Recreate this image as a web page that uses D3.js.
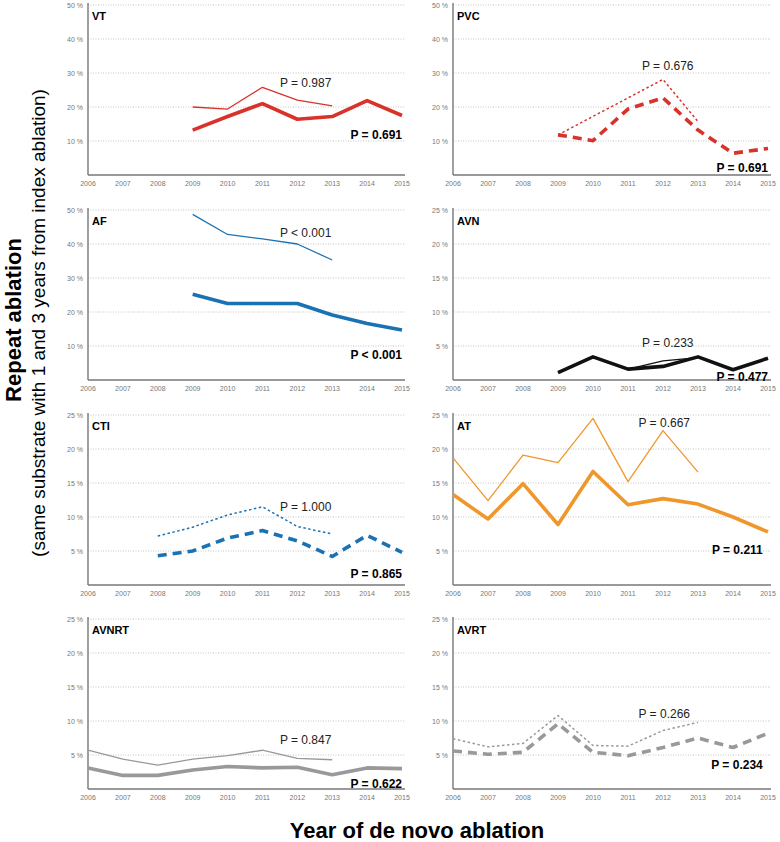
<!DOCTYPE html>
<html>
<head>
<meta charset="utf-8">
<script src="https://cdn.jsdelivr.net/npm/d3@7"></script>
<style>
  body { margin: 0; background: #fff; }
  svg { font-family: "Liberation Sans", Arial, Helvetica, sans-serif; }
</style>
</head>
<body>
<script>
// tick labels
var years = [2006, 2007, 2008, 2009, 2010, 2011, 2012, 2013, 2014, 2015];
var panelNames = ["VT", "PVC", "AF", "AVN", "CTI", "AT", "AVNRT", "AVRT"];
var yMax = [50, 50, 50, 25, 25, 25, 25, 25];

// 3-year repeat (thin, ends 2013) and 1-year repeat (thick, to 2015), % per year
var vt3  = [null, null, null, 20.0, 19.4, 25.8, 22.0, 20.3];
var vt1  = [null, null, null, 13.2, 17.2, 21.0, 16.4, 17.2, 21.9, 17.5];
var pvc3 = [null, null, null, 11.8, null, null, 28.1, 15.7];
var pvc1 = [null, null, null, 11.8, 10.1, 19.4, 22.7, 13.2, 6.4, 7.8];
var af3  = [null, null, null, 48.7, 42.8, 41.5, 40.0, 35.3];
var af1  = [null, null, null, 25.2, 22.5, 22.5, 22.5, 19.1, 16.6, 14.7];
var avn3 = [null, null, null, 1.1, 3.4, 1.6, 2.8, 3.3];
var avn1 = [null, null, null, 1.1, 3.4, 1.6, 2.0, 3.4, 1.5, 3.2];
var cti3 = [null, null, 7.2, 8.5, 10.3, 11.5, 8.6, 7.5];
var cti1 = [null, null, 4.3, 5.0, 6.9, 8.0, 6.5, 4.2, 7.3, 4.8];
var at3  = [18.7, 12.4, 19.1, 18.0, 24.5, 15.2, 22.7, 16.6];
var at1  = [13.3, 9.7, 14.9, 8.9, 16.7, 11.8, 12.7, 11.9, 10.0, 7.8];
var avnrt3 = [5.7, 4.4, 3.5, 4.4, 4.9, 5.7, 4.5, 4.3];
var avnrt1 = [3.1, 2.0, 2.0, 2.8, 3.3, 3.1, 3.2, 2.1, 3.1, 3.0];
var avrt3 = [7.4, 6.2, 6.7, 10.8, 6.4, 6.3, 8.6, 9.8];
var avrt1 = [5.6, 5.1, 5.4, 9.6, 5.4, 4.9, 6.1, 7.5, 6.1, 8.2];

var thinSeries = [vt3, pvc3, af3, avn3, cti3, at3, avnrt3, avrt3];
var thickSeries = [vt1, pvc1, af1, avn1, cti1, at1, avnrt1, avrt1];

var pThin = ["P = 0.987", "P = 0.676", "P < 0.001", "P = 0.233", "P = 1.000", "P = 0.667", "P = 0.847", "P = 0.266"];
var pBold = ["P = 0.691", "P = 0.691", "P < 0.001", "P = 0.477", "P = 0.865", "P = 0.211", "P = 0.622", "P = 0.234"];

// styles
var colors = ["#d9322a", "#d9322a", "#1b72b3", "#111111", "#1b72b3", "#f0972c", "#999999", "#999999"];
var dashed = [false, true, false, false, true, false, false, true];

// label anchors (year, %) for the P values
var thinLabelAt = [[2011.5, 25.9], [2011.4, 30.9], [2011.5, 42.1], [2011.4, 4.85], [2011.5, 10.9], [2011.3, 23.2], [2011.5, 6.6], [2011.3, 10.4]];
var boldLabelAt = [[2015, 10.6], [2015, 0.9], [2015, 6.2], [2015, -0.1], [2015, 1.0], [2014.85, 4.6], [2015, 0.1], [2014.85, 2.9]];

var width = 780, height = 842;
var colLeft = [88, 453], colRight = [402, 768];
var rowTop = [5, 210, 415, 619], plotH = 170;

var svg = d3.select("body").append("svg")
    .attr("width", width)
    .attr("height", height);

panelNames.forEach(function(name, i) {
  var col = i % 2, row = Math.floor(i / 2);
  var x = d3.scaleLinear().domain([2006, 2015]).range([colLeft[col], colRight[col]]);
  var y = d3.scaleLinear().domain([0, yMax[i]]).range([rowTop[row] + plotH, rowTop[row]]);
  var g = svg.append("g");
  var yTicks = d3.range(yMax[i] / 5, yMax[i] + 0.01, yMax[i] / 5);

  // dotted grid
  g.selectAll(".grid").data(yTicks).enter().append("line")
      .attr("x1", x(2006)).attr("x2", x(2015) + 3)
      .attr("y1", function(d) { return y(d); })
      .attr("y2", function(d) { return y(d); })
      .attr("stroke", "#b5b5b5")
      .attr("stroke-width", 0.8)
      .attr("stroke-dasharray", "1,1.5");

  g.selectAll(".ylab").data(yTicks).enter().append("text")
      .attr("x", x(2006) - 5)
      .attr("y", function(d) { return y(d) + 2.5; })
      .attr("text-anchor", "end")
      .attr("font-size", 7)
      .attr("fill", "#777")
      .text(function(d) { return d + " %"; });

  g.selectAll(".xlab").data(years).enter().append("text")
      .attr("x", function(d) { return x(d); })
      .attr("y", y(0) + 11)
      .attr("text-anchor", "middle")
      .attr("font-size", 7)
      .attr("fill", "#777")
      .text(function(d) { return d; });

  // axis lines
  g.append("line").attr("x1", x(2006)).attr("x2", x(2006))
      .attr("y1", y(yMax[i]) - 2).attr("y2", y(0))
      .attr("stroke", "#777").attr("stroke-width", 1.4);
  g.append("line").attr("x1", x(2006)).attr("x2", x(2015) + 3)
      .attr("y1", y(0)).attr("y2", y(0))
      .attr("stroke", "#777").attr("stroke-width", 1.4);

  g.append("text")
      .attr("x", x(2006) + 4)
      .attr("y", y(yMax[i]) + 15)
      .attr("font-size", 11)
      .attr("font-weight", "bold")
      .attr("fill", "#000")
      .text(name);

  var line = d3.line()
      .x(function(d) { return x(d.year); })
      .y(function(d) { return y(d.v); });

  function pts(arr) {
    return arr.map(function(v, k) { return { year: years[k], v: v }; })
              .filter(function(d) { return d.v != null; });
  }

  g.append("path")
      .datum(pts(thinSeries[i]))
      .attr("d", line)
      .attr("fill", "none")
      .attr("stroke", colors[i])
      .attr("stroke-width", dashed[i] ? 1.5 : 1.3)
      .attr("stroke-dasharray", dashed[i] ? "2.5,2.5" : null)
      .attr("stroke-linejoin", "round");

  g.append("path")
      .datum(pts(thickSeries[i]))
      .attr("d", line)
      .attr("fill", "none")
      .attr("stroke", colors[i])
      .attr("stroke-width", 3.6)
      .attr("stroke-dasharray", dashed[i] ? "9,6" : null)
      .attr("stroke-linejoin", "round");

  g.append("text")
      .attr("x", x(thinLabelAt[i][0]))
      .attr("y", y(thinLabelAt[i][1]))
      .attr("font-size", 12)
      .attr("fill", "#222")
      .text(pThin[i]);

  g.append("text")
      .attr("x", x(boldLabelAt[i][0]))
      .attr("y", y(boldLabelAt[i][1]))
      .attr("text-anchor", "end")
      .attr("font-size", 12)
      .attr("font-weight", "bold")
      .attr("fill", "#000")
      .text(pBold[i]);
});

// axis titles
svg.append("text")
    .attr("transform", "translate(21,320) rotate(-90)")
    .attr("text-anchor", "middle")
    .attr("font-size", 22)
    .attr("font-weight", "bold")
    .text("Repeat ablation");
svg.append("text")
    .attr("transform", "translate(45,323) rotate(-90)")
    .attr("text-anchor", "middle")
    .attr("font-size", 19)
    .text("(same substrate with 1 and 3 years from index ablation)");

svg.append("text")
    .attr("x", 417)
    .attr("y", 838)
    .attr("text-anchor", "middle")
    .attr("font-size", 22)
    .attr("font-weight", "bold")
    .text("Year of de novo ablation");
</script>
</body>
</html>
